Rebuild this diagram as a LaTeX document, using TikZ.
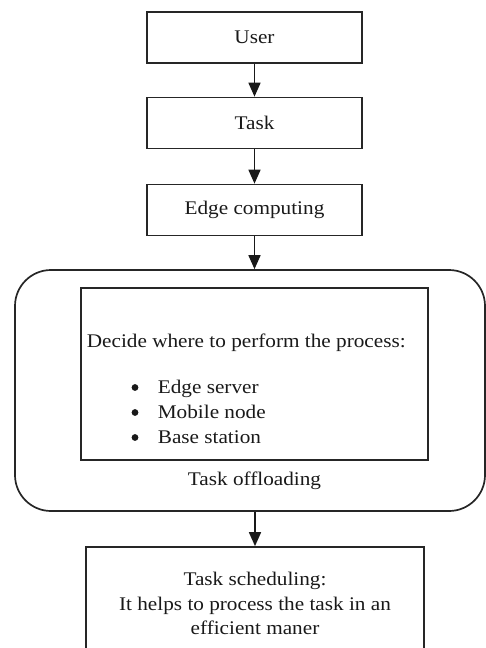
\documentclass[tikz,border=0pt]{standalone}
\usepackage{fontspec}
\setmainfont{Liberation Serif}[FakeStretch=1.1]
\usetikzlibrary{arrows.meta}
\begin{document}
\begin{tikzpicture}[x=1pt,y=-1pt,
  line width=1.7pt,
  every node/.style={font=\fontsize{19.3}{24.5}\selectfont, text=black!90},
  stepbox/.style={draw=black!85, rectangle, minimum width=215pt, minimum height=51pt, inner sep=0pt},
  flow/.style={draw=black!90, -{Triangle[length=14pt,width=12pt]}},
  plain/.style={inner sep=0pt, anchor=base west},
  dot/.style={circle, fill=black!90, draw=none, inner sep=0pt, minimum size=6.8pt}
]
\useasboundingbox (0,0) rectangle (486,648);
\clip (0,0) rectangle (486,648);
\node[stepbox] (user) at (254.5,37.5) {User};
\node[stepbox] (task) at (254.5,123) {Task};
\node[stepbox] (edge) at (254.5,210) {Edge computing};
\node[draw=black!85, rounded corners=36pt, minimum width=470pt, minimum height=241pt, inner sep=0pt] (outer) at (250,390.5) {};
\node[draw=black!85, minimum width=347pt, minimum height=172pt, inner sep=0pt] (inner) at (254.5,374) {};
\node[plain] (decide) at (86,347.5) {Decide where to perform the process:};
\node[dot] (d1) at (135,387.5) {};
\node[dot] (d2) at (135,412.5) {};
\node[dot] (d3) at (135,437.5) {};
\node[plain] (b1) at (157,393) {Edge server};
\node[plain] (b2) at (157,418) {Mobile node};
\node[plain] (b3) at (157,443) {Base station};
\node[inner sep=0pt, anchor=base] (offl) at (254.5,485) {Task offloading};
\node[draw=black!85, minimum width=338pt, minimum height=113pt, inner sep=0pt, align=center] (sched) at (255,603.5) {Task scheduling:\\It helps to process the task in an\\efficient maner};
\draw[flow] (user) -- (task);
\draw[flow] (task) -- (edge);
\draw[flow] (edge.south) -- (edge.south |- outer.north);
\draw[flow] (sched.north |- outer.south) -- (sched.north);
\end{tikzpicture}
\end{document}
